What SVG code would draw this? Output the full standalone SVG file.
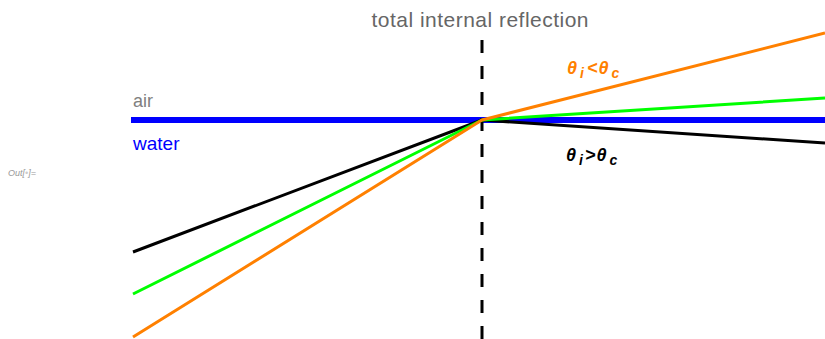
<svg xmlns="http://www.w3.org/2000/svg" width="825" height="339" viewBox="0 0 825 339">
<style>
.ray{fill:none;stroke-width:3;stroke-linecap:butt;stroke-linejoin:round}
.lbl{font-family:"Liberation Sans",Arial,sans-serif}
.th{font-family:"Liberation Sans",Arial,sans-serif;font-style:italic;font-weight:bold;font-size:18px}
.sub{font-size:14px}
</style>
<rect width="825" height="339" fill="#ffffff"/>
<text class="lbl" x="8" y="176" font-size="9" font-style="italic" fill="#999999">Out[<tspan fill="#cccccc">•</tspan>]=</text>
<g id="interface">
<line x1="131" y1="120" x2="825" y2="120" stroke="#0000ff" stroke-width="6"/>
</g>
<g id="normal">
<line x1="482" y1="40" x2="482" y2="339" stroke="#000000" stroke-width="3" stroke-dasharray="13 13"/>
</g>
<g id="connectors">
<polyline class="ray" id="ray-black" points="133,252 482,120 825,143" stroke="#000000"/>
<polyline class="ray" id="ray-green" points="133,294 482,120 825,98" stroke="#00ff00"/>
<polyline class="ray" id="ray-orange" points="133,337 482,120 825,33" stroke="#ff8000"/>
</g>
<g id="title"><text class="lbl" x="480" y="27" font-size="21" fill="#666666" text-anchor="middle" textLength="217" lengthAdjust="spacing">total internal reflection</text></g>
<g id="air"><text class="lbl" x="133" y="107" font-size="18" fill="#808080">air</text></g>
<g id="water"><text class="lbl" x="133" y="150" font-size="19" fill="#0000ff">water</text></g>
<g id="label-less"><text class="th" x="567" y="74" fill="#ff8000">θ<tspan class="sub" dx="3" dy="4">i</tspan><tspan dx="3" dy="-4">&lt;</tspan><tspan dx="1">θ</tspan><tspan class="sub" dx="3" dy="4">c</tspan></text></g>
<g id="label-greater"><text class="th" x="566" y="161" fill="#000000">θ<tspan class="sub" dx="3" dy="4">i</tspan><tspan dx="2" dy="-4">&gt;</tspan><tspan dx="1">θ</tspan><tspan class="sub" dx="3" dy="4">c</tspan></text></g>
</svg>
